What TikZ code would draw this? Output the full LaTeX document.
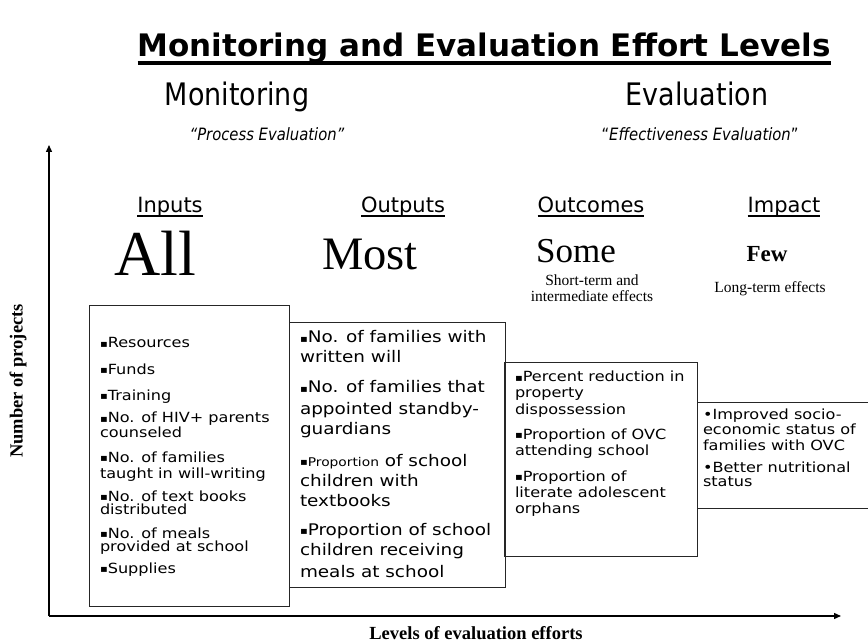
\documentclass[tikz,border=0pt]{standalone}
\usepackage{fontspec}
\setmainfont{Liberation Serif}
\newfontfamily\dvs{DejaVu Sans}
\newfontfamily\tah[FakeStretch=0.87]{DejaVu Sans}
\newfontfamily\boxfont[FakeStretch=1.15]{DejaVu Sans}
\newcommand\sqbul{{\fontsize{10}{10}\selectfont\raisebox{0.8pt}{▪}}}
\usetikzlibrary{arrows.meta}
\begin{document}
\begin{tikzpicture}[x=1pt,y=-1pt,
  every node/.style={inner sep=0pt,outer sep=0pt},
  ctxt/.style={anchor=base},
  ltxt/.style={anchor=base west},
  axis/.style={line width=1.3pt,-{Triangle[length=7pt,width=6pt]}},
  boxst/.style={draw=black!85,line width=0.9pt},
  uline/.style={line width=1.3pt},
  bA/.style={ltxt,font=\boxfont\fontsize{14}{14}\selectfont},
  bB/.style={ltxt,font=\boxfont\fontsize{16}{16}\selectfont},
  head/.style={ctxt,font=\tah\fontsize{31}{31}\selectfont},
  subhead/.style={ctxt,font=\tah\fontsize{17}{17}\selectfont},
  stage/.style={ctxt,font=\dvs\fontsize{21}{21}\selectfont},
  note/.style={ctxt,font=\fontsize{15.5}{15.5}\selectfont},
  axlabel/.style={font=\bfseries\fontsize{18.5}{18.5}\selectfont}]
\useasboundingbox (0,0) rectangle (868,644);

% title
\node[ctxt,font=\dvs\bfseries\fontsize{31}{31}\selectfont] (title) at (484,57) {Monitoring and Evaluation Effort Levels};
\draw[line width=3.5pt] ([yshift=-6pt]title.base west) -- ([yshift=-6pt]title.base east);

% headings
\node[head] (mon) at (237,106) {Monitoring};
\node[subhead] (proc) at (267,141) {\itshape “Process Evaluation”};
\node[head] (eva) at (697,106) {Evaluation};
\node[subhead] (effe) at (700,141) {“\itshape Effectiveness Evaluation\upshape”};

% stage labels
\node[stage] (inp) at (170,213) {Inputs};
\node[stage] (outp) at (403,213) {Outputs};
\node[stage] (outc) at (591,213) {Outcomes};
\node[stage] (imp) at (784,213) {Impact};
\foreach \n in {inp,outp,outc,imp}
  \draw[uline] ([yshift=-3pt]\n.base west) -- ([yshift=-3pt]\n.base east);

% quantities
\node[ctxt,font=\fontsize{64}{64}\selectfont] (all) at (155,276) {All};
\node[ctxt,font=\fontsize{46.5}{46.5}\selectfont] (most) at (370,270) {Most};
\node[ctxt,font=\fontsize{35}{35}\selectfont] (some) at (576,263) {Some};
\node[ctxt,font=\bfseries\fontsize{23}{23}\selectfont] (few) at (767,262) {Few};
\node[note] (st1) at (592,286) {Short-term and};
\node[note] (st2) at (592,302) {intermediate effects};
\node[note] (lt) at (770,293) {Long-term effects};

% axes
\coordinate (O) at (49,616);
\coordinate (ytop) at (49,145);
\coordinate (xend) at (841,616);
\draw[axis] (O) -- (ytop);
\draw[axis] (O) -- (xend);
\node[axlabel,rotate=90] (ylab) at (18,381) {Number of projects};
\node[axlabel,anchor=base] (xlab) at (476,639) {Levels of evaluation efforts};

% boxes
\node[boxst,minimum width=200pt,minimum height=301pt] (box1) at (189,455.5) {};
\node[boxst,minimum width=216pt,minimum height=265pt] (box2) at (397,454.5) {};
\node[boxst,minimum width=193pt,minimum height=194pt] (box3) at (600.5,459) {};
\draw[boxst] (868,402) -| (697,508) -- (868,508);

% box 1 text
\foreach \t/\y [count=\i] in {{\sqbul Resources}/348,{\sqbul Funds}/374,{\sqbul Training}/400,
  {\sqbul No. of HIV+ parents}/423,{counseled}/437,{\sqbul No. of families}/462,
  {taught in will-writing}/478,{\sqbul No. of text books}/501,{distributed}/514,
  {\sqbul No. of meals}/538,{provided at school}/551,{\sqbul Supplies}/573}
  \node[bA] (a\i) at (100,\y) {\t};

% box 2 text
\foreach \t/\y [count=\i] in {{\sqbul No. of families with}/343,{written will}/363,
  {\sqbul No. of families that}/393,{appointed standby-}/414,{guardians}/434,
  {{\fontsize{12}{12}\selectfont\sqbul Proportion} of school}/466,{children with}/486,{textbooks}/506,
  {\sqbul Proportion of school}/535,{children receiving}/555,{meals at school}/577}
  \node[bB] (b\i) at (300,\y) {\t};

% box 3 text
\foreach \t/\y [count=\i] in {{\sqbul Percent reduction in}/382,{property}/398,{dispossession}/414,
  {\sqbul Proportion of OVC}/439,{attending school}/455,{\sqbul Proportion of}/481,
  {literate adolescent}/497,{orphans}/513}
  \node[bA] (c\i) at (515,\y) {\t};

% box 4 text
\foreach \t/\y [count=\i] in {{•Improved socio-}/419,{economic status of}/435,
  {families with OVC}/450,{•Better nutritional}/472,{status}/486}
  \node[bA] (d\i) at (703,\y) {\t};
\end{tikzpicture}
\end{document}
